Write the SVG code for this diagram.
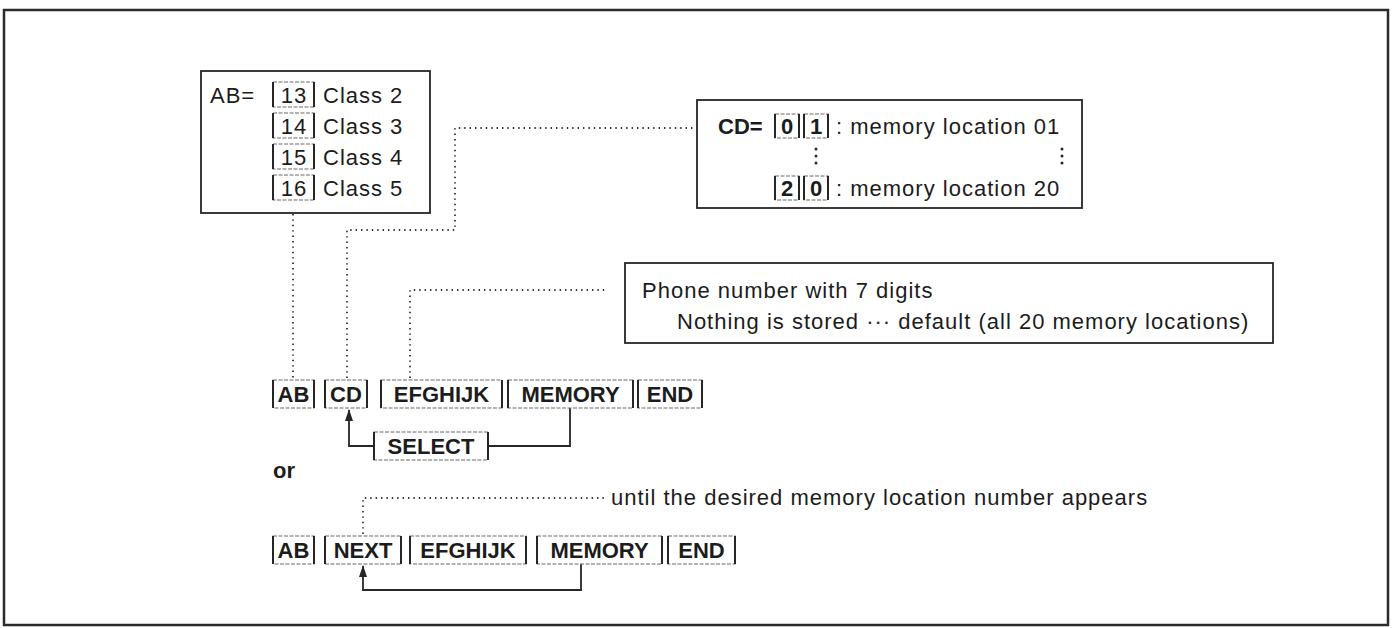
<svg xmlns="http://www.w3.org/2000/svg" width="1392" height="628" viewBox="0 0 1392 628">
<style>
text{font-family:"Liberation Sans",Arial,sans-serif;font-size:22px;fill:#1c1c1c;letter-spacing:1px}
.b{font-weight:bold;letter-spacing:0}
.m{text-anchor:middle}
.box{fill:none;stroke:#262626;stroke-width:1.8}
.kt{fill:none;stroke:#6a6a6a;stroke-width:1.1;stroke-dasharray:4 1.5}
.ks{fill:none;stroke:#262626;stroke-width:2}
.dot{fill:none;stroke:#333333;stroke-width:1.8;stroke-dasharray:1.4 4}
.ln{fill:none;stroke:#262626;stroke-width:1.8}
.vd{fill:#262626}
</style>
<defs>
<marker id="ah" markerWidth="12" markerHeight="8" refX="11" refY="4" orient="auto" markerUnits="userSpaceOnUse" viewBox="0 0 12 8">
<path d="M0 0 L12 4 L0 8 Z" fill="#262626"/>
</marker>
</defs>
<rect x="0" y="0" width="1392" height="628" fill="#ffffff"/>
<rect x="4" y="10" width="1384" height="615" fill="none" stroke="#2b2b2b" stroke-width="2.5"/>

<g id="connectors">
<path class="dot" d="M293 214 V378"/>
<path class="dot" d="M347 378 V230 H455 V128 H697"/>
<path class="dot" d="M410 378 V290 H608"/>
<path class="dot" d="M363 534 V498 H606"/>
<path class="ln" d="M570 408 V446 H488"/>
<path class="ln" d="M374 446 H349 V410" marker-end="url(#ah)"/>
<path class="ln" d="M581 564 V590 H363 V566" marker-end="url(#ah)"/>
</g>

<g id="ab-box">
<rect class="box" x="201" y="71" width="229" height="142"/>
<text x="210" y="103">AB=</text>
<rect class="kt" x="273" y="82" width="41" height="25"/><path class="ks" d="M273 82 V107 M314 82 V107"/>
<text class="m" x="294" y="103">13</text><text x="323" y="103">Class 2</text>
<rect class="kt" x="273" y="113" width="41" height="25"/><path class="ks" d="M273 113 V138 M314 113 V138"/>
<text class="m" x="294" y="134">14</text><text x="323" y="134">Class 3</text>
<rect class="kt" x="273" y="144" width="41" height="25"/><path class="ks" d="M273 144 V169 M314 144 V169"/>
<text class="m" x="294" y="165">15</text><text x="323" y="165">Class 4</text>
<rect class="kt" x="273" y="175" width="41" height="25"/><path class="ks" d="M273 175 V200 M314 175 V200"/>
<text class="m" x="294" y="196">16</text><text x="323" y="196">Class 5</text>
</g>

<g id="cd-box">
<rect class="box" x="697" y="100" width="385" height="108"/>
<text class="b" x="718" y="134">CD=</text>
<rect class="kt" x="775" y="114" width="24" height="24"/><path class="ks" d="M775 114 V138 M799 114 V138"/>
<text class="b m" x="787" y="134">0</text>
<rect class="kt" x="804" y="114" width="24" height="24"/><path class="ks" d="M804 114 V138 M828 114 V138"/>
<text class="b m" x="816" y="134">1</text>
<text x="836" y="134">: memory location 01</text>
<circle class="vd" cx="816" cy="149" r="1.5"/><circle class="vd" cx="816" cy="156" r="1.5"/><circle class="vd" cx="816" cy="163" r="1.5"/>
<circle class="vd" cx="1062" cy="149" r="1.5"/><circle class="vd" cx="1062" cy="156" r="1.5"/><circle class="vd" cx="1062" cy="163" r="1.5"/>
<rect class="kt" x="775" y="176" width="24" height="24"/><path class="ks" d="M775 176 V200 M799 176 V200"/>
<text class="b m" x="787" y="196">2</text>
<rect class="kt" x="804" y="176" width="24" height="24"/><path class="ks" d="M804 176 V200 M828 176 V200"/>
<text class="b m" x="816" y="196">0</text>
<text x="836" y="196">: memory location 20</text>
</g>

<g id="phone-box">
<rect class="box" x="625" y="263" width="648" height="80"/>
<text x="642" y="298">Phone number with 7 digits</text>
<text x="677" y="329">Nothing is stored ··· default (all 20 memory locations)</text>
</g>

<g id="row1">
<rect class="kt" x="273" y="380" width="41" height="28"/><path class="ks" d="M273 380 V408 M314 380 V408"/>
<text class="b m" x="293.5" y="402">AB</text>
<rect class="kt" x="325" y="380" width="42" height="28"/><path class="ks" d="M325 380 V408 M367 380 V408"/>
<text class="b m" x="346" y="402">CD</text>
<rect class="kt" x="381" y="380" width="121" height="28"/><path class="ks" d="M381 380 V408 M502 380 V408"/>
<text class="b m" x="441.5" y="402">EFGHIJK</text>
<rect class="kt" x="508" y="380" width="125" height="28"/><path class="ks" d="M508 380 V408 M633 380 V408"/>
<text class="b m" x="570.5" y="402">MEMORY</text>
<rect class="kt" x="638" y="380" width="64" height="28"/><path class="ks" d="M638 380 V408 M702 380 V408"/>
<text class="b m" x="670" y="402">END</text>
</g>

<g id="select">
<rect class="kt" x="374" y="432" width="114" height="28"/><path class="ks" d="M374 432 V460 M488 432 V460"/>
<text class="b m" x="431" y="454">SELECT</text>
</g>

<g id="or"><text class="b" x="273" y="478">or</text></g>

<g id="until"><text x="611" y="505">until the desired memory location number appears</text></g>

<g id="row2">
<rect class="kt" x="273" y="536" width="41" height="28"/><path class="ks" d="M273 536 V564 M314 536 V564"/>
<text class="b m" x="293.5" y="558">AB</text>
<rect class="kt" x="325" y="536" width="76" height="28"/><path class="ks" d="M325 536 V564 M401 536 V564"/>
<text class="b m" x="363" y="558">NEXT</text>
<rect class="kt" x="410" y="536" width="116" height="28"/><path class="ks" d="M410 536 V564 M526 536 V564"/>
<text class="b m" x="468" y="558">EFGHIJK</text>
<rect class="kt" x="537" y="536" width="125" height="28"/><path class="ks" d="M537 536 V564 M662 536 V564"/>
<text class="b m" x="599.5" y="558">MEMORY</text>
<rect class="kt" x="668" y="536" width="67" height="28"/><path class="ks" d="M668 536 V564 M735 536 V564"/>
<text class="b m" x="701.5" y="558">END</text>
</g>
</svg>
